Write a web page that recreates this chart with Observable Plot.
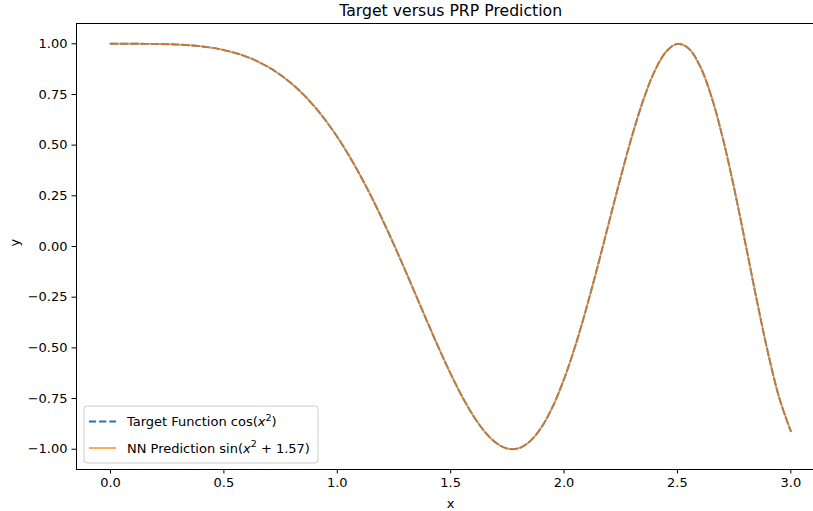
<!DOCTYPE html>
<html>
<head>
<meta charset="utf-8">
<script src="https://cdn.jsdelivr.net/npm/d3@7"></script>
<script src="https://cdn.jsdelivr.net/npm/@observablehq/plot@0.6"></script>
<style>
  html, body { margin: 0; padding: 0; background: #fff; }
</style>
</head>
<body>
<script>
// x samples and values
const xValues = [0.00,0.05,0.10,0.15,0.20,0.25,0.30,0.35,0.40,0.45,0.50,0.55,0.60,0.65,0.70,0.75,0.80,0.85,0.90,0.95,
  1.00,1.05,1.10,1.15,1.20,1.25,1.30,1.35,1.40,1.45,1.50,1.55,1.60,1.65,1.70,1.75,1.80,1.85,1.90,1.95,
  2.00,2.05,2.10,2.15,2.20,2.25,2.30,2.35,2.40,2.45,2.50,2.55,2.60,2.65,2.70,2.75,2.80,2.85,2.90,2.95,3.00];
const targetValues = [1.0000,1.0000,1.0000,0.9997,0.9992,0.9980,0.9960,0.9925,0.9872,0.9796,0.9689,0.9546,0.9359,0.9121,0.8823,0.8459,0.8021,0.7502,0.6895,0.6197,
  0.5403,0.4514,0.3530,0.2458,0.1304,0.0083,-0.1189,-0.2491,-0.3795,-0.5070,-0.6282,-0.7391,-0.8356,-0.9135,-0.9685,-0.9969,-0.9952,-0.9608,-0.8923,-0.7895,
  -0.6536,-0.4887,-0.2978,-0.0898,0.1273,0.3430,0.5460,0.7241,0.8663,0.9609,0.9995,0.9761,0.8885,0.7389,0.5346,0.2874,0.0140,-0.2653,-0.5278,-0.7503,-0.9111];
const predictionValues = [1.0000,1.0000,1.0000,0.9997,0.9992,0.9981,0.9960,0.9926,0.9873,0.9797,0.9691,0.9548,0.9362,0.9124,0.8827,0.8464,0.8026,0.7508,0.6901,0.6203,
  0.5410,0.4521,0.3537,0.2466,0.1312,0.0091,-0.1181,-0.2483,-0.3788,-0.5063,-0.6276,-0.7386,-0.8352,-0.9132,-0.9683,-0.9969,-0.9952,-0.9610,-0.8927,-0.7900,
  -0.6542,-0.4894,-0.2986,-0.0906,0.1265,0.3423,0.5454,0.7236,0.8659,0.9607,0.9995,0.9763,0.8889,0.7394,0.5352,0.2882,0.0148,-0.2645,-0.5271,-0.7498,-0.9108];
const xTicks = [0, 0.5, 1.0, 1.5, 2.0, 2.5, 3.0];
const yTicks = [-1.0, -0.75, -0.5, -0.25, 0, 0.25, 0.5, 0.75, 1.0];
const titleText = "Target versus PRP Prediction";
const xLabel = "x";
const yLabel = "y";

const target = xValues.map((x, i) => ({x, y: targetValues[i]}));
const prediction = xValues.map((x, i) => ({x, y: predictionValues[i]}));

const fmtY = d3.format(".2f");
const fmtX = d3.format(".1f");

const svg = Plot.plot({
  width: 813,
  height: 511,
  marginLeft: 76,
  marginRight: 0,
  marginTop: 23,
  marginBottom: 42,
  style: {fontFamily: "DejaVu Sans", fontSize: "13px", background: "#fff", overflow: "visible", color: "#000"},
  x: {domain: [-0.15, 3.1], type: "linear"},
  y: {domain: [-1.1, 1.1], type: "linear"},
  marks: [
    Plot.ruleY([-1.1, 1.1], {stroke: "#000", strokeWidth: 1}),
    Plot.ruleX([-0.15], {stroke: "#000", strokeWidth: 1}),
    Plot.axisX({ticks: xTicks, tickFormat: fmtX, tickSize: 4.5, tickPadding: 3.5, label: null, fontSize: 13}),
    Plot.axisY({ticks: yTicks, tickFormat: fmtY, tickSize: 4.5, tickPadding: 4.5, label: null, fontSize: 13}),
    Plot.line(target, {x: "x", y: "y", stroke: "#1f77b4", strokeWidth: 1.9, strokeDasharray: "7.1,3.1", curve: "catmull-rom"}),
    Plot.line(prediction, {x: "x", y: "y", stroke: "#ff7f0e", strokeOpacity: 0.7, strokeWidth: 1.9, curve: "catmull-rom"}),
    Plot.text([titleText], {x: () => 1.5, frameAnchor: "top", lineAnchor: "middle", dy: -12.5, text: d => d, fontSize: 15.7, fill: "#000"}),
    Plot.text([xLabel], {x: () => 1.5, frameAnchor: "bottom", lineAnchor: "middle", dy: 34, text: d => d, fontSize: 13, fill: "#000"}),
    Plot.text([yLabel], {y: () => 0, frameAnchor: "left", dx: -62, rotate: -90, text: d => d, fontSize: 13, fill: "#000"})
  ]
});
document.body.appendChild(svg);

// Legend
const g = d3.select(svg).append("g")
  .attr("font-family", "DejaVu Sans").attr("font-size", 13).attr("text-anchor", "start");
g.append("rect").attr("x", 84).attr("y", 406).attr("width", 234).attr("height", 57)
  .attr("rx", 3).attr("fill", "#fff").attr("fill-opacity", 0.8).attr("stroke", "#cccccc").attr("stroke-width", 1);
g.append("line").attr("x1", 89).attr("x2", 116).attr("y1", 421.5).attr("y2", 421.5)
  .attr("stroke", "#1f77b4").attr("stroke-width", 1.9).attr("stroke-dasharray", "7.1,3.1");
g.append("line").attr("x1", 89).attr("x2", 116).attr("y1", 448).attr("y2", 448)
  .attr("stroke", "#ff7f0e").attr("stroke-opacity", 0.7).attr("stroke-width", 1.9);

function mathLabel(y, before, after) {
  const t = g.append("text").attr("x", 127).attr("y", y).attr("dy", "0.35em")
    .attr("fill", "#000").attr("text-anchor", "start");
  t.append("tspan").text(before);
  t.append("tspan").attr("font-style", "italic").text("x");
  t.append("tspan").attr("font-size", 9.5).attr("dy", -5.5).text("2");
  t.append("tspan").attr("dy", 5.5).text(after);
}
mathLabel(421.5, "Target Function cos(", ")");
mathLabel(448, "NN Prediction sin(", " + 1.57)");
</script>
</body>
</html>
